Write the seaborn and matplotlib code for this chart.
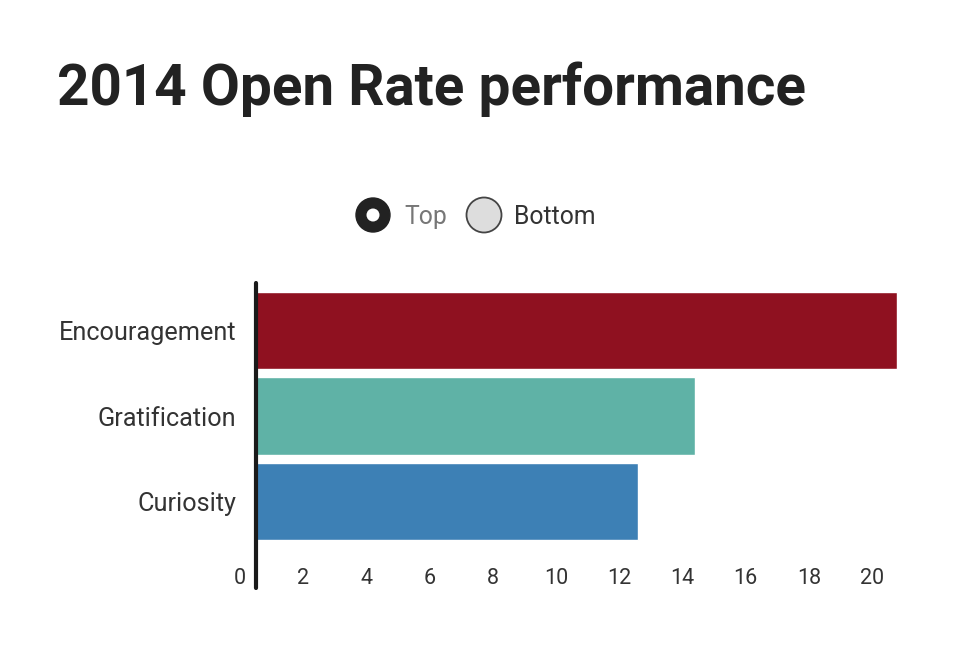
import matplotlib
matplotlib.use("Agg")
import matplotlib.pyplot as plt
import matplotlib.transforms as mtransforms
from matplotlib.patches import Circle
import seaborn as sns
import pandas as pd

categories = ["Encouragement", "Gratification", "Curiosity"]
values = [20.3, 13.9, 12.1]
colors = ["#8f1120", "#5fb2a6", "#3d80b5"]
xticks = [0, 2, 4, 6, 8, 10, 12, 14, 16, 18, 20]
legend_labels = ["Top", "Bottom"]
title = "2014 Open Rate performance"

sns.set_theme(style="white")
plt.rcParams["font.family"] = ["Roboto", "DejaVu Sans"]

df = pd.DataFrame({"category": categories, "value": values})

W, H = 971, 652
fig = plt.figure(figsize=(W / 100, H / 100), dpi=100)
left_px, right_px = 256, 256 + 21 * 31.6
top_px, bottom_px = 283, 549
ax = fig.add_axes([left_px / W, 1 - bottom_px / H, (right_px - left_px) / W, (bottom_px - top_px) / H])

sns.barplot(data=df, y="category", x="value", hue="category", palette=colors,
            order=categories, width=0.9, ax=ax, legend=False, saturation=1)

ax.set_xlim(0, 21)
ax.set_ylim(2.55, -0.55)
ax.set_xlabel("")
ax.set_ylabel("")
for s in ["top", "right", "bottom", "left"]:
    ax.spines[s].set_visible(False)

ax.set_xticks(xticks)
ax.set_xticklabels([str(t) for t in xticks])
ax.tick_params(axis="x", length=0, pad=13.5, labelsize=15.5, labelcolor="#333333")
ax.tick_params(axis="y", length=0, pad=14, labelsize=18.2, labelcolor="#333333")
shift = mtransforms.ScaledTranslation(-16 / 100, 0, fig.dpi_scale_trans)
for lbl in ax.get_xticklabels():
    lbl.set_transform(lbl.get_transform() + shift)

ax.axvline(0, ymin=-(588 - bottom_px) / (bottom_px - top_px), ymax=1.0,
           color="#1a1a1a", lw=3, clip_on=False, zorder=5)

fig.text(57 / W, 1 - 105 / H, title, fontsize=40.8, fontweight="bold",
         color="#222222", ha="left", va="baseline")

c1 = Circle((373, H - 215), 17, transform=None, facecolor="#222222", edgecolor="#222222", lw=1)
c1b = Circle((373, H - 215), 6.5, transform=None, facecolor="white", edgecolor="none")
c2 = Circle((484, H - 215), 17.5, transform=None, facecolor="#dddddd", edgecolor="#444444", lw=1.3)
for c in (c1, c1b, c2):
    fig.patches.append(c)
fig.text(404 / W, 1 - 217 / H, legend_labels[0], fontsize=17.8, color="#777777",
         ha="left", va="center")
fig.text(514 / W, 1 - 217 / H, legend_labels[1], fontsize=17.8, color="#333333",
         ha="left", va="center")

fig.savefig("out.png", dpi=100)
